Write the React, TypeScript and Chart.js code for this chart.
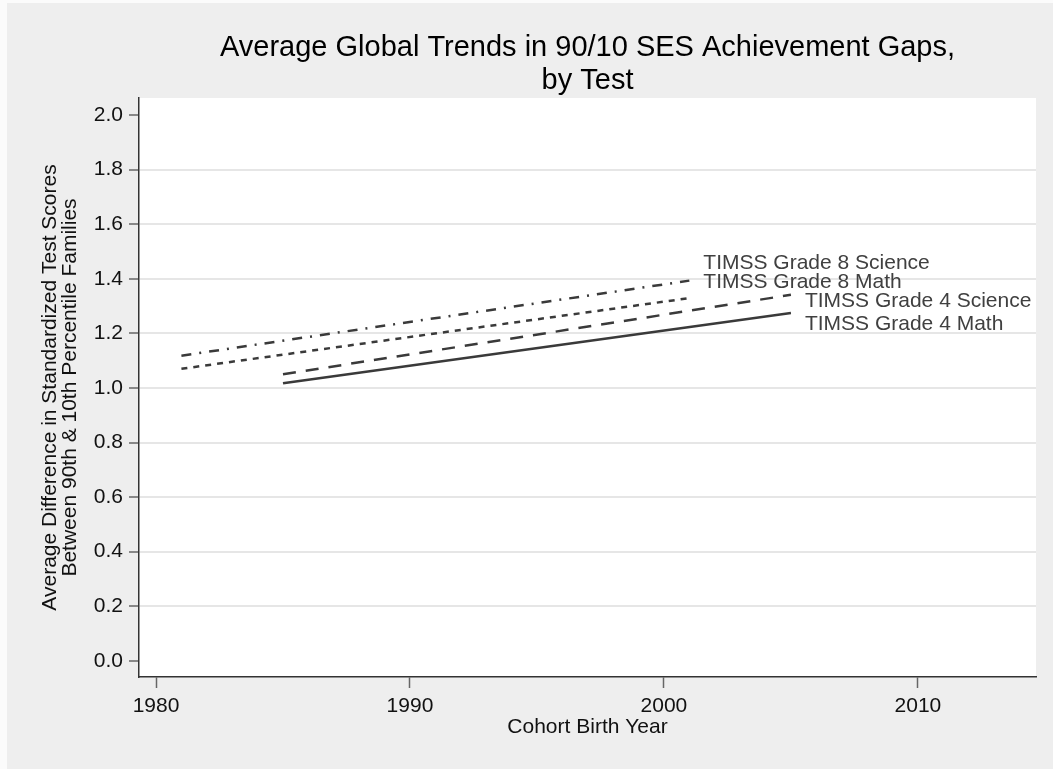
import React, { useEffect, useRef } from 'react';
import { Chart, registerables } from 'chart.js';

Chart.register(...registerables);

// ---- data ----
const seriesNames = [
  'TIMSS Grade 8 Science',
  'TIMSS Grade 8 Math',
  'TIMSS Grade 4 Science',
  'TIMSS Grade 4 Math',
];
const grade8Years = [1981, 2001];
const grade4Years = [1985, 2005];
const grade8Science = [1.118, 1.393];
const grade8Math = [1.07, 1.329];
const grade4Science = [1.05, 1.341];
const grade4Math = [1.017, 1.274];
const xTickValues = [1980, 1990, 2000, 2010];
const yTickValues = [0, 0.2, 0.4, 0.6, 0.8, 1.0, 1.2, 1.4, 1.6, 1.8, 2.0];
const titleLines = ['Average Global Trends in 90/10 SES Achievement Gaps,', 'by Test'];
const xTitle = 'Cohort Birth Year';
const yTitleLines = [
  'Average Difference in Standardized Test Scores',
  'Between 90th & 10th Percentile Families',
];

// ---- styles ----
const FONT = '"Liberation Sans", Arial, Helvetica, sans-serif';
const LINE_COLOR = '#3a3a3a';
const seriesStyles = [
  { dash: [10, 8, 2, 8], dx: 14, dy: -17 },
  { dash: [6, 6], dx: 14, dy: -16 },
  { dash: [13, 10], dx: 14, dy: 6 },
  { dash: [] as number[], dx: 14, dy: 11 },
];

const backgroundPlugin = {
  id: 'bgPlugin',
  beforeDraw(chart: any) {
    const { ctx, width, height, chartArea } = chart;
    ctx.save();
    ctx.fillStyle = '#fbfbfb';
    ctx.fillRect(0, 0, width, height);
    ctx.fillStyle = '#eeeeee';
    ctx.fillRect(7, 3, width - 7, height - 3);
    ctx.fillStyle = '#ffffff';
    ctx.fillRect(chartArea.left, chartArea.top, chartArea.right - chartArea.left, chartArea.bottom - chartArea.top);
    ctx.restore();
  },
};

const endLabelPlugin = {
  id: 'endLabels',
  afterDatasetsDraw(chart: any) {
    const { ctx } = chart;
    ctx.save();
    ctx.font = `21px ${FONT}`;
    ctx.fillStyle = '#404040';
    ctx.textBaseline = 'middle';
    ctx.textAlign = 'left';
    chart.data.datasets.forEach((ds: any, i: number) => {
      const meta = chart.getDatasetMeta(i);
      const pt = meta.data[meta.data.length - 1];
      if (!pt) return;
      const st = seriesStyles[i];
      ctx.fillText(ds.label, pt.x + st.dx, pt.y + st.dy);
    });
    ctx.restore();
  },
};

function toPoints(xs: number[], ys: number[]) {
  return xs.map((x, i) => ({ x, y: ys[i] }));
}

export default function App() {
  const canvasRef = useRef<HTMLCanvasElement | null>(null);

  useEffect(() => {
    if (!canvasRef.current) return;
    const seriesData = [
      toPoints(grade8Years, grade8Science),
      toPoints(grade8Years, grade8Math),
      toPoints(grade4Years, grade4Science),
      toPoints(grade4Years, grade4Math),
    ];
    const chart = new Chart(canvasRef.current, {
      type: 'line',
      data: {
        datasets: seriesData.map((d, i) => ({
          label: seriesNames[i],
          data: d,
          borderColor: LINE_COLOR,
          borderWidth: 2.5,
          borderDash: seriesStyles[i].dash,
          pointRadius: 0,
          fill: false,
          tension: 0,
        })),
      },
      options: {
        responsive: false,
        animation: false,
        devicePixelRatio: 1,
        layout: { padding: { left: 0, right: 17, top: 0, bottom: 0 } },
        plugins: {
          legend: { display: false },
          tooltip: { enabled: false },
          title: {
            display: true,
            text: titleLines,
            color: '#000000',
            fullSize: false,
            font: { family: FONT, size: 29, weight: 'normal', lineHeight: 1.15 },
            padding: { top: 31, bottom: 0.3 },
          },
        },
        scales: {
          x: {
            type: 'linear',
            min: 1979.33,
            max: 2014.65,
            afterBuildTicks: (s: any) => {
              s.ticks = xTickValues.map((v) => ({ value: v }));
            },
            afterFit: (s: any) => {
              s.height = 92;
            },
            ticks: {
              font: { family: FONT, size: 21 },
              color: '#111111',
              padding: 6,
              maxRotation: 0,
              callback: (v: any) => String(v),
            },
            grid: {
              drawOnChartArea: false,
              drawTicks: true,
              tickLength: 11,
              tickColor: '#666666',
              tickWidth: 1.5,
            },
            border: { display: true, color: '#333333', width: 1.5 },
            title: {
              display: true,
              text: xTitle,
              color: '#111111',
              font: { family: FONT, size: 21, lineHeight: 1.0 },
              padding: { top: 0, bottom: 31 },
            },
          },
          y: {
            type: 'linear',
            min: -0.059,
            max: 2.062,
            afterBuildTicks: (s: any) => {
              s.ticks = yTickValues.map((v) => ({ value: v }));
            },
            afterFit: (s: any) => {
              s.width = 139;
            },
            ticks: {
              font: { family: FONT, size: 21 },
              color: '#111111',
              padding: 6,
              callback: (v: any) => Number(v).toFixed(1),
            },
            grid: {
              drawOnChartArea: true,
              color: (ctx: any) => {
                const v = ctx.tick ? ctx.tick.value : null;
                if (v === null) return 'rgba(0,0,0,0)';
                return Math.abs(v) < 1e-6 || Math.abs(v - 2) < 1e-6 ? 'rgba(0,0,0,0)' : '#e6e6e6';
              },
              lineWidth: 2,
              drawTicks: true,
              tickLength: 10,
              tickColor: '#666666',
              tickWidth: 1.5,
            },
            border: { display: true, color: '#333333', width: 1.5 },
            title: {
              display: true,
              text: yTitleLines,
              color: '#111111',
              font: { family: FONT, size: 21, lineHeight: 0.95 },
              padding: { top: 40, bottom: 0 },
            },
          },
        },
      },
      plugins: [backgroundPlugin, endLabelPlugin],
    } as any);
    return () => chart.destroy();
  }, []);

  return (
    <div style={{ position: 'absolute', left: 0, top: 0, width: 1053, height: 769 }}>
      <canvas ref={canvasRef} width={1053} height={769} style={{ display: 'block', width: 1053, height: 769 }} />
    </div>
  );
}
